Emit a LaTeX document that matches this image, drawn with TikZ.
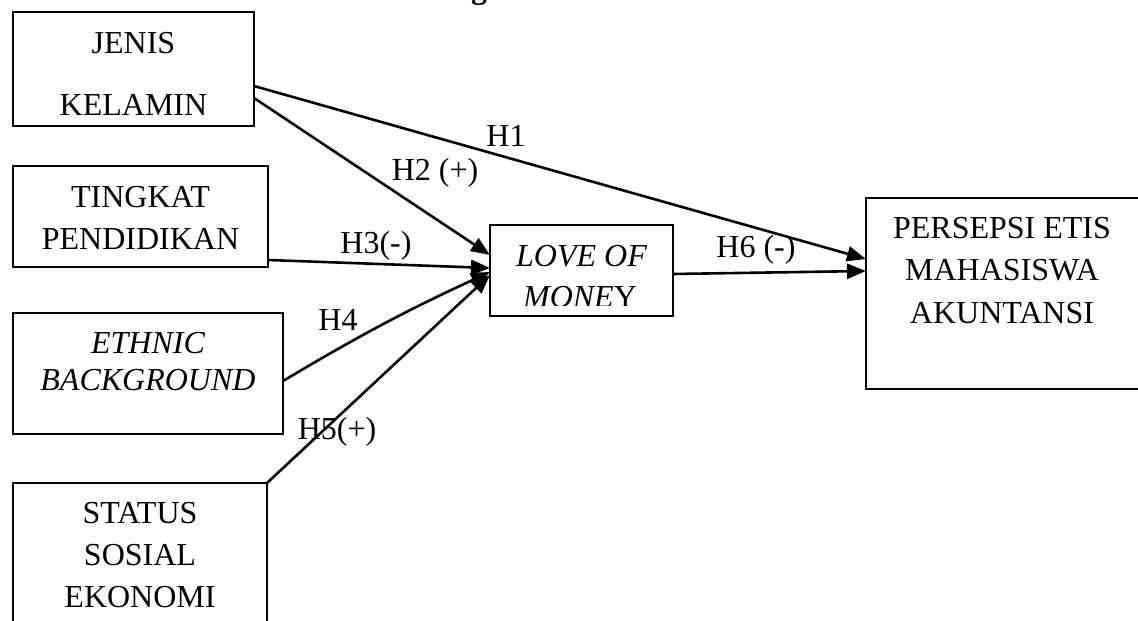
\documentclass[tikz,border=0pt]{standalone}
\usepackage{fontspec}
\setmainfont{Liberation Serif}
\usetikzlibrary{arrows.meta,calc}
\begin{document}
\begin{tikzpicture}[x=1pt,y=-1pt,
  box/.style={draw,line width=2pt,rectangle,inner sep=0pt,outer sep=0pt,anchor=north west},
  txt/.style={anchor=base,inner sep=0pt,font=\fontsize{32}{38}\selectfont},
  conn/.style={line width=2.6pt,-{Triangle[length=19pt,width=15pt]}},
  lbl/.style={inner sep=0pt,font=\fontsize{32}{38}\selectfont}]
\useasboundingbox (0,0) rectangle (1138,621);
% boxes
\node[box,minimum width=241pt,minimum height=114pt] (jk) at (13,12) {};
\node[box,minimum width=255pt,minimum height=101pt] (tp) at (13,166) {};
\node[box,minimum width=270pt,minimum height=121pt] (eb) at (13,313) {};
\node[box,minimum width=254pt,minimum height=160pt] (ss) at (13,483) {};
\node[box,minimum width=183pt,minimum height=91pt] (lom) at (490,225) {};
\node[box,minimum width=274pt,minimum height=191pt] (pe) at (866,198) {};
% partial heading
\node[txt,font=\fontsize{32}{38}\selectfont\bfseries] (hd) at (479,-1.5) {g};
% texts
\node[txt] (jk1) at (133.5,53) {JENIS};
\node[txt] (jk2) at (133.5,115) {KELAMIN};
\node[txt] (tp1) at (140.5,207) {TINGKAT};
\node[txt] (tp2) at (140.5,249) {PENDIDIKAN};
\node[txt] (eb1) at (148,353) {\itshape ETHNIC};
\node[txt] (eb2) at (148,390) {\itshape BACKGROUND};
\node[txt] (ss1) at (140,523) {STATUS};
\node[txt] (ss2) at (140,565) {SOSIAL};
\node[txt] (ss3) at (140,607) {EKONOMI};
\node[txt] (lo1) at (581.5,266) {\itshape LOVE OF};
\begin{scope}
\clip (491,226) rectangle (672,305);
\node[txt] (lo2) at (580,307) {\textit{MONE}Y};
\end{scope}
\node[txt] (pe1) at (1002,238) {PERSEPSI ETIS};
\node[txt] (pe2) at (1002,280) {MAHASISWA};
\node[txt] (pe3) at (1002,323) {AKUNTANSI};
% connectors
\draw[conn] ([yshift=-74pt]jk.north east) -- ([yshift=-61pt]pe.north west);
\draw[conn] ([yshift=-86pt]jk.north east) -- ([yshift=-30pt]lom.north west);
\draw[conn] ([yshift=-94pt]tp.north east) -- ([yshift=-43pt]lom.north west);
\draw[conn] ([yshift=-68pt]eb.north east) to[bend left=3] ([yshift=-47pt]lom.north west);
\draw[conn] (ss.north east) -- ([yshift=-50pt]lom.north west);
\draw[conn] ([yshift=-49pt]lom.north east) -- ([yshift=-73pt]pe.north west);
% labels
\node[lbl] (h1) at (506,136) {H1};
\node[lbl] (h2) at (435,173) {H2 (+)};
\node[lbl] (h3) at (376,246) {H3(-)};
\node[lbl] (h4) at (338,320) {H4};
\node[lbl] (h5) at (337,432) {H5(+)};
\node[lbl] (h6) at (756,250) {H6 (-)};
\end{tikzpicture}
\end{document}
